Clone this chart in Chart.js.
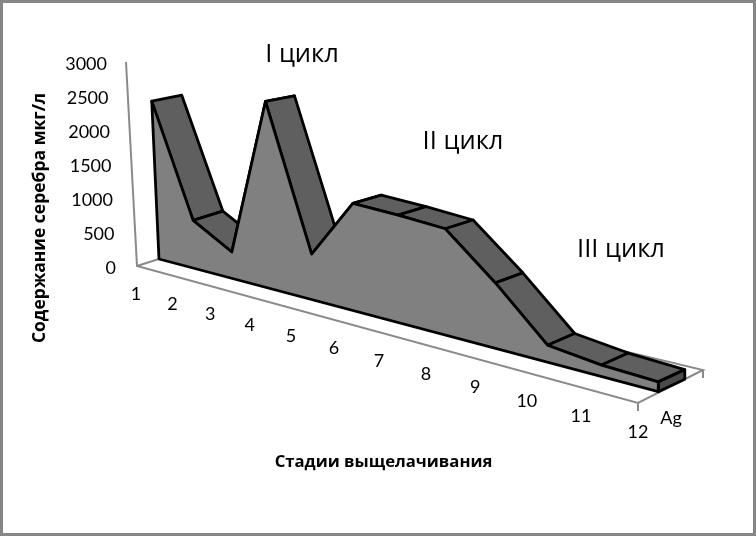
<!DOCTYPE html>
<html><head><meta charset="utf-8">
<style>html,body{margin:0;padding:0;background:#fff}canvas{display:block}</style>
<script src="https://cdn.jsdelivr.net/npm/chart.js@4/dist/chart.umd.min.js"></script>
</head><body><canvas id="c" width="756" height="536"></canvas>
<script>
// ---- data ----
const stages = ['1','2','3','4','5','6','7','8','9','10','11','12'];
const silver = [2470,740,400,2760,660,1520,1490,1440,865,220,145,120];
const valueTicks = [0,500,1000,1500,2000,2500,3000];
const seriesName = 'Ag';
const yTitle = 'Содержание серебра мкг/л';
const xTitle = 'Стадии выщелачивания';
const cycleNotes = ['I цикл','II цикл','III цикл'];

// ---- oblique perspective used by the 3-D look ----
const G = 1.28;
const denom = t => t + G*(1-t);
const persp = t => t/denom(t);
function project(t, n, d){
  const p = persp(t), h = 245.4*n/denom(t);
  const xb = 159 + p*499.3, yb = 259 + p*132.7;
  const lean = 0.046*(1-p);
  let X = xb - lean*h, Y = yb - h;
  if(d){ X += 30 - 3.5*t; Y += -(10.5 + 2.05*t) + 0.0286*h; }
  return [X,Y];
}
function poly(ctx, pts, fill){
  ctx.beginPath();
  pts.forEach((q,i)=> i?ctx.lineTo(q[0],q[1]):ctx.moveTo(q[0],q[1]));
  ctx.closePath();
  if(fill){ctx.fillStyle=fill;ctx.fill();}
  ctx.stroke();
}
class Area3D extends Chart.LineController{
  draw(){
    const meta=this.getMeta(), xs=meta.xScale, ys=meta.yScale, ctx=this.chart.ctx;
    const pts=meta.data.map(e=>({t:(e.x-xs.left)/xs.width, n:(ys.bottom-e.y)/ys.height}));
    ctx.save();
    ctx.lineJoin='round'; ctx.strokeStyle='#000'; ctx.lineWidth=2.8;
    // top ribbon, back to front
    for(let i=0;i<pts.length-1;i++){
      const a=pts[i], b=pts[i+1];
      poly(ctx,[project(a.t,a.n,0),project(a.t,a.n,1),project(b.t,b.n,1),project(b.t,b.n,0)],'#5f5f5f');
    }
    // end cap
    const e=pts[pts.length-1];
    poly(ctx,[project(e.t,e.n,0),project(e.t,e.n,1),project(e.t,0,1),project(e.t,0,0)],'#4a4a4a');
    // front face
    const front=pts.map(q=>project(q.t,q.n,0));
    front.push(project(e.t,0,0)); front.push(project(pts[0].t,0,0));
    poly(ctx,front,'#808080');
    ctx.restore();
  }
}
Area3D.id='area3d';
Area3D.defaults=Chart.LineController.defaults;
Chart.register(Area3D);

const labelAt = t => { const p=persp(t); return [136+p*502, 294+p*138]; };

const frame3d={
  id:'frame3d',
  beforeDatasetsDraw(chart){
    const c=chart.ctx;
    c.save();
    c.strokeStyle='#8a8a8a'; c.lineWidth=2;
    [[[126,62],[137,266],[638,403],[703,370],[193,248],[137,266]],[[638,403],[638,411]],[[703,370],[703,378]]]
      .forEach(l=>{c.beginPath();l.forEach((q,i)=>i?c.lineTo(q[0],q[1]):c.moveTo(q[0],q[1]));c.stroke();});
    c.restore();
  },
  afterDraw(chart){
    const c=chart.ctx, xs=chart.scales.x, ys=chart.scales.y;
    c.save();
    c.fillStyle='#000'; c.textBaseline='middle';
    c.font='18px Lato';
    c.textAlign='right';
    ys.ticks.forEach(tk=>{
      const n=(ys.bottom-ys.getPixelForValue(tk.value))/ys.height;
      c.fillText(tk.label,116-9*n,268-204*n);
    });
    c.textAlign='center';
    stages.forEach((s,i)=>{
      const t=(xs.getPixelForValue(i)-xs.left)/xs.width, q=labelAt(t);
      c.fillText(s,q[0],q[1]);
    });
    c.fillText(seriesName,671,418);
    c.font='25.5px "Open Sans"';
    c.fillText(cycleNotes[0],302,55);
    c.fillText(cycleNotes[1],463,142);
    c.fillText(cycleNotes[2],621,250);
    c.strokeStyle='#868686'; c.lineWidth=3;
    c.strokeRect(1.5,1.5,753,533);
    c.restore();
  }
};

new Chart(document.getElementById('c'),{
  type:'area3d',
  data:{labels:stages,datasets:[{label:seriesName,data:silver,pointRadius:0,clip:false}]},
  plugins:[frame3d],
  options:{
    responsive:false,animation:false,
    layout:{padding:{left:30,right:40,top:60,bottom:64}},
    plugins:{legend:{display:false},tooltip:{enabled:false},title:{display:false}},
    scales:{
      x:{type:'category',offset:false,grid:{display:false,drawTicks:false},border:{display:false},
         ticks:{display:false},
         title:{display:true,text:xTitle,color:'#000',padding:{top:76,bottom:0},font:{family:'"Open Sans"',size:16.7,weight:'bold',lineHeight:1.2}}},
      y:{min:0,max:3000,grid:{display:false,drawTicks:false},border:{display:false},
         ticks:{display:false},
         afterBuildTicks(s){s.ticks=valueTicks.map(v=>({value:v}));},
         afterTickToLabelConversion(s){s.ticks.forEach(k=>k.label=String(k.value));},
         title:{display:true,text:yTitle,color:'#000',padding:{top:0,bottom:0},font:{family:'"Open Sans"',size:17.5,weight:'bold',lineHeight:1.2}}}
    }
  }
});
</script></body></html>
